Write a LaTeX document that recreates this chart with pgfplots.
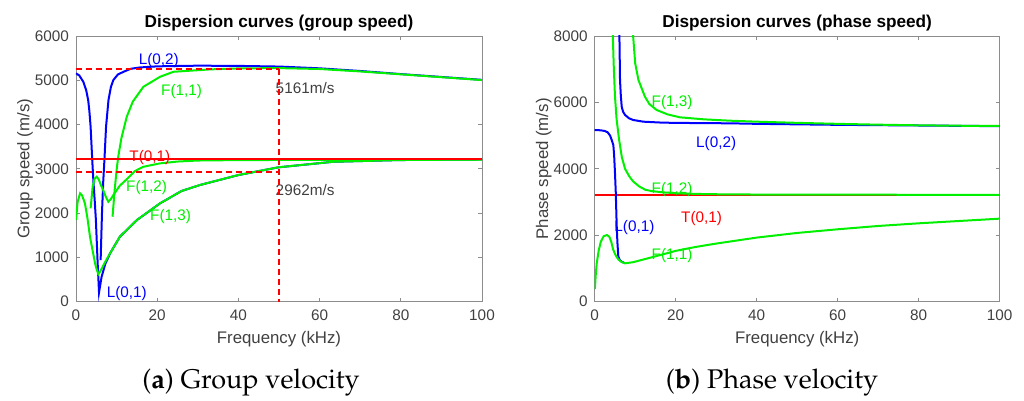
\documentclass[border=0pt]{standalone}
\usepackage[T1]{fontenc}
\usepackage{fontspec}
\setmainfont{Liberation Sans}
\usepackage{pgfplots}
\pgfplotsset{compat=1.18}
\definecolor{axgray}{RGB}{140,140,140}
\definecolor{txtgray}{RGB}{64,64,64}
\definecolor{mblue}{RGB}{0,0,255}
\definecolor{mgreen}{RGB}{0,240,0}
\definecolor{mred}{RGB}{255,0,0}
\newcommand{\capfont}{\fontencoding{T1}\fontfamily{ppl}\selectfont}
\newcommand{\lbl}{\fontsize{7.65}{9}\selectfont}
\pgfplotsset{
  mat/.style={
    scale only axis,
    anchor=south west,
    height=132.85pt,
    xmin=0, xmax=100,
    xtick={0,20,...,100},
    axis line style={axgray, line width=0.4pt},
    tick style={axgray, line width=0.4pt},
    major tick length=2pt,
    tick align=inside,
    every tick label/.append style={font=\lbl, text=txtgray},
    /pgf/number format/assume math mode=true,
    /pgf/number format/1000 sep={},
    scaled ticks=false,
    xticklabel style={yshift=-0.4pt},
    label style={font=\fontsize{8.4}{10}\selectfont, text=txtgray},
    xlabel style={at={(axis description cs:0.5,-0.1415)}, anchor=center},
    ylabel style={at={(axis description cs:-0.1256,0.5)}, anchor=center},
    every axis title shift=0pt,
    title style={at={(axis description cs:0.5,1.049)}, anchor=center, font=\bfseries\fontsize{8.6}{10}\selectfont, text=black},
    xlabel={Frequency (kHz)},
    every axis plot/.append style={line width=1pt, no markers},
  }
}
\begin{document}
\begin{tikzpicture}
\path[use as bounding box] (0,0) rectangle (512pt,200.5pt);
\begin{axis}[mat, at={(38pt,49.65pt)}, width=203pt,
  ymin=0, ymax=6000, ytick={0,1000,...,6000},
  ylabel={Group speed (m/s)}, title={Dispersion curves (group speed)}]
% L(0,1)
\addplot[mblue] coordinates {(0,5156) (0.8,5110) (1.8,4966) (2.5,4780) (3.0,4553) (3.3,4300) (3.6,3950) (4.0,3199) (4.3,2700) (4.6,2300) (4.9,1844) (5.3,941) (5.67,210) (6.3,560) (7.2,850) (8.4,1093) (10.8,1467) (15,1844) (20.7,2221) (26,2500) (30.5,2634) (40,2860) (49.8,3034) (63.4,3160) (79.8,3199) (100,3212)};
% L(0,2)
\addplot[mblue] coordinates {(6.07,940) (6.4,2000) (6.7,2700) (7.0,3199) (7.4,3950) (8.0,4553) (8.6,4850) (9.2,5005) (10.3,5130) (11.7,5192) (13.5,5260) (15.8,5290) (20,5315) (30,5330) (40,5325) (50,5310) (60,5270) (70,5210) (80,5140) (90,5075) (100,5010)};
% F(1,3)
\addplot[mgreen] coordinates {(0,1844) (0.4,2250) (1.0,2447) (1.5,2400) (2.2,2221) (2.8,1900) (3.45,1467) (4.1,1150) (4.7,867) (5.0,760) (5.5,620) (6.0,690) (7.2,900) (8.4,1093) (10.8,1467) (15,1844) (20.7,2221) (26,2500) (30.5,2634) (40,2860) (49.8,3034) (63.4,3160) (79.8,3199) (100,3212)};
% F(1,2)
\addplot[mgreen] coordinates {(3.6,2108) (4.1,2596) (4.6,2780) (5.1,2822) (5.6,2760) (6.2,2620) (6.7,2520) (7.3,2380) (7.96,2257) (8.6,2320) (9.2,2408) (10.8,2620) (12.9,2800) (14.5,2950) (16.6,3047) (20.7,3124) (25,3165) (30,3188) (40,3198) (60,3203) (100,3207)};
% F(1,1)
\addplot[mgreen] coordinates {(9.0,1919) (9.5,2500) (10.0,2970) (10.4,3273) (11.2,3700) (12.5,4176) (14.0,4520) (16.6,4853) (20.7,5079) (24,5192) (33,5246) (40,5268) (50,5275) (60,5255) (70,5200) (80,5135) (90,5070) (100,5005)};
% T(0,1)
\addplot[mred] coordinates {(0,3215) (100,3215)};
\node[mblue, font=\lbl] at (axis cs:20.4,5456) {L(0,2)};
\node[mgreen, font=\lbl] at (axis cs:26,4740) {F(1,1)};
\node[txtgray, font=\lbl, anchor=west, inner sep=0pt] at (axis cs:49.1,4817) {5161m/s};
\node[mred, font=\lbl] at (axis cs:18.2,3260) {T(0,1)};
\node[mgreen, font=\lbl] at (axis cs:17.4,2582) {F(1,2)};
\node[txtgray, font=\lbl, anchor=west, inner sep=0pt] at (axis cs:49.1,2521) {2962m/s};
\node[mgreen, font=\lbl] at (axis cs:23.3,1919) {F(1,3)};
\node[mblue, font=\lbl] at (axis cs:12.5,190) {L(0,1)};
% dashed guides
\addplot[mred, dash pattern=on 3pt off 2pt] coordinates {(0,5262) (50,5262)};
\addplot[mred, dash pattern=on 3pt off 2pt] coordinates {(0,2918) (50,2918)};
\addplot[mred, dash pattern=on 3pt off 2pt] coordinates {(50,5262) (50,0)};
\end{axis}
\begin{axis}[mat, at={(297.35pt,49.65pt)}, width=202.5pt,
  ymin=0, ymax=8000, ytick={0,2000,...,8000},
  ylabel={Phase speed (m/s)}, title={Dispersion curves (phase speed)}]
% T(0,1)
\addplot[mred, line width=0.75pt] coordinates {(0,3215) (100,3215)};
% L(0,1)
\addplot[mblue] coordinates {(0,5170) (1.5,5160) (2.5,5140) (3.2,5100) (3.8,5000) (4.2,4869) (4.6,4718) (4.8,4400) (5.0,3900) (5.2,3300) (5.43,2300) (5.6,1800) (5.83,1355) (6.2,1250) (6.67,1204) (7.2,1175)};
% L(0,2)
\addplot[mblue] coordinates {(6.05,8400) (6.15,7600) (6.25,6676) (6.45,6200) (6.67,5872) (7.0,5720) (7.5,5622) (8.5,5520) (9.5,5471) (12,5420) (16.9,5390) (25,5378) (33.4,5371) (40,5355) (50,5340) (60,5325) (70,5315) (80,5305) (90,5295) (100,5285)};
% F(1,1)
\addplot[mgreen] coordinates {(0.05,380) (0.25,800) (0.5,1155) (1.0,1550) (1.5,1800) (2.2,1970) (3.0,2008) (3.6,1957) (4.1,1800) (4.6,1557) (5.2,1390) (5.83,1276) (6.7,1190) (7.5,1155) (9.5,1190) (12,1270) (15.3,1376) (20,1530) (25,1650) (30,1750) (40,1930) (50,2070) (60,2180) (70,2280) (80,2360) (90,2430) (100,2500)};
% F(1,2)
\addplot[mgreen] coordinates {(4.35,8400) (4.5,7900) (4.7,7100) (5.0,6200) (5.4,5500) (6.0,4900) (6.7,4350) (7.5,4000) (8.5,3780) (9.5,3620) (11,3470) (12.5,3370) (14.1,3330) (17,3290) (21,3260) (27,3240) (33.4,3230) (50,3222) (100,3218)};
% F(1,3)
\addplot[mgreen] coordinates {(9.3,8400) (9.5,7980) (10,7178) (10.8,6676) (12.4,6173) (13.5,5950) (15.3,5772) (18,5640) (21,5552) (27,5490) (33.4,5450) (40,5420) (50,5385) (60,5355) (70,5330) (80,5310) (90,5298) (100,5290)};
\node[mgreen, font=\lbl] at (axis cs:19.1,6004) {F(1,3)};
\node[mblue, font=\lbl] at (axis cs:30.0,4770) {L(0,2)};
\node[mgreen, font=\lbl] at (axis cs:19.1,3385) {F(1,2)};
\node[mred, font=\lbl] at (axis cs:26.4,2511) {T(0,1)};
\node[mblue, font=\lbl] at (axis cs:9.8,2240) {L(0,1)};
\node[mgreen, font=\lbl] at (axis cs:19.1,1376) {F(1,1)};
\end{axis}
\node[font=\capfont\fontsize{13.5}{16}\selectfont] at (125.5pt,9pt) {(\textbf{a}) Group velocity};
\node[font=\capfont\fontsize{13.5}{16}\selectfont] at (386pt,9pt) {(\textbf{b}) Phase velocity};
\end{tikzpicture}
\end{document}
